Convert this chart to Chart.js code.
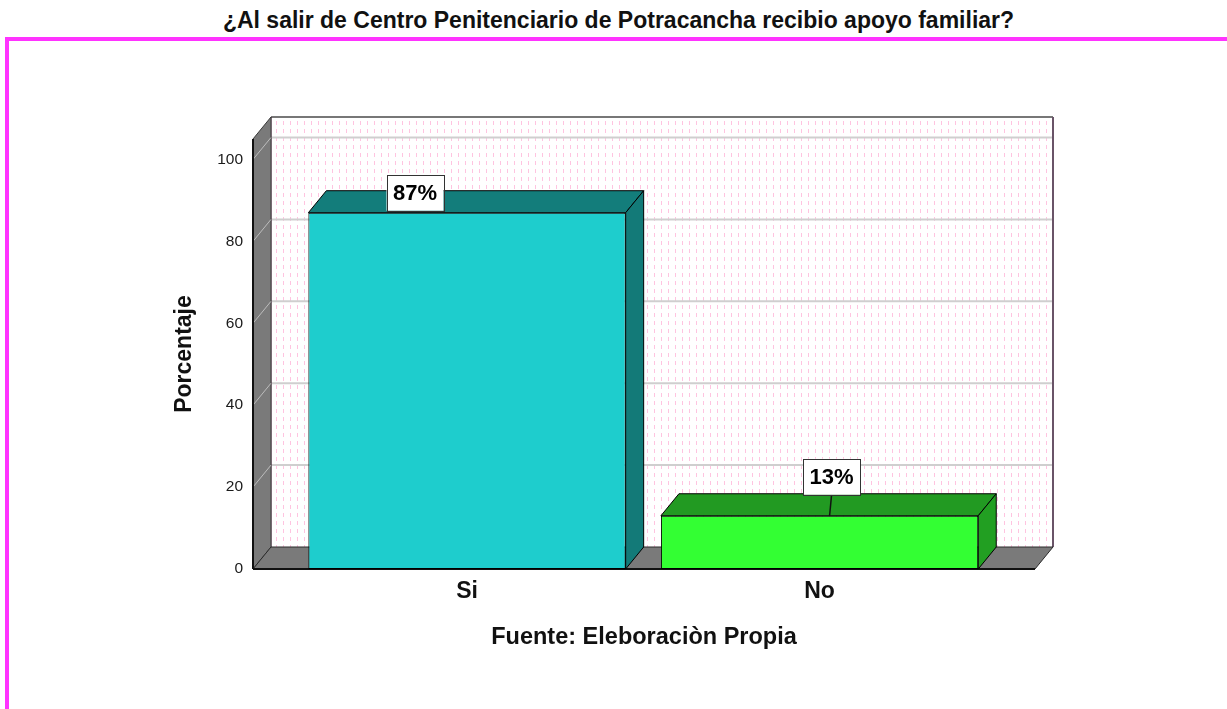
<!DOCTYPE html>
<html lang="es">
<head>
<meta charset="utf-8">
<title>Apoyo familiar</title>
<script src="https://cdn.jsdelivr.net/npm/chart.js@4.4.1/dist/chart.umd.min.js"></script>
<style>
    body {
        margin: 0;
        width: 1227px;
        height: 709px;
        position: relative;
        overflow: hidden;
        background: #fff;
        font-family: "Liberation Sans", Arial, sans-serif;
    }
    #title {
        position: absolute;
        left: 0;
        top: 6px;
        width: 1227px;
        padding-left: 10px;
        box-sizing: border-box;
        margin: 0;
        text-align: center;
        font-size: 23px;
        font-weight: bold;
        line-height: 28px;
        color: #111;
    }
    #frame {
        position: absolute;
        left: 5px;
        top: 37px;
        right: -10px;
        bottom: -10px;
        border-top: 4px solid #ff33ff;
        border-left: 4px solid #ff33ff;
    }
    #holder {
        position: absolute;
        left: 0;
        top: 0;
        width: 1227px;
        height: 709px;
    }
</style>
</head>
<body>
<h1 id="title">¿Al salir de Centro Penitenciario de Potracancha recibio apoyo familiar?</h1>
<div id="frame"></div>
<div id="holder"><canvas id="chart"></canvas></div>
<script>
// Chart data
var categories = ['Si', 'No'];
var percentages = [87, 13];
var percentLabels = ['87%', '13%'];
var yTickValues = [0, 20, 40, 60, 80, 100];
var yAxisTitle = 'Porcentaje';
var xAxisTitle = 'Fuente: Eleboraciòn Propia';

// Look of the SPSS style 3D bars
var fontFamily = '"Liberation Sans", Arial, sans-serif';
var frontColors = ['#1ecdcd', '#33ff33'];
var topColors = ['#137d7b', '#229a22'];
var sideColors = ['#137a78', '#229f22'];
var depth = { dx: 18, dy: 22 };
var labelShift = [[-52, -20], [12, -39]];

/**
 * Builds the pink dotted fill used on the back wall.
 */
function dotPattern(ctx)
{
    var tile = document.createElement('canvas');
    var tctx;

    tile.width = 7;
    tile.height = 8;
    tctx = tile.getContext('2d');
    tctx.fillStyle = '#ffffff';
    tctx.fillRect(0, 0, 7, 8);
    tctx.fillStyle = '#ffc4e0';
    tctx.fillRect(3, 1, 1, 4);

    return ctx.createPattern(tile, 'repeat');
}

function polygon(ctx, points, fill, stroke, width)
{
    var i;

    ctx.beginPath();
    ctx.moveTo(points[0][0], points[0][1]);
    for (i = 1; i < points.length; i++) {
        ctx.lineTo(points[i][0], points[i][1]);
    }
    ctx.closePath();
    if (fill) {
        ctx.fillStyle = fill;
        ctx.fill();
    }
    if (stroke) {
        ctx.strokeStyle = stroke;
        ctx.lineWidth = width || 1;
        ctx.stroke();
    }
}

function line(ctx, x1, y1, x2, y2, color, width)
{
    ctx.beginPath();
    ctx.moveTo(x1, y1);
    ctx.lineTo(x2, y2);
    ctx.strokeStyle = color;
    ctx.lineWidth = width;
    ctx.stroke();
}

/**
 * Draws the walls and floor behind the bars, then the 3D faces and value boxes.
 */
var walls3d = {
    id: 'walls3d',

    beforeDatasetsDraw: function (chart) {
        var ctx = chart.ctx, area = chart.chartArea, yScale = chart.scales.y;
        var L = area.left, R = area.right, T = area.top, B = area.bottom;
        var dx = depth.dx, dy = depth.dy;

        ctx.save();

        // back wall
        ctx.fillStyle = dotPattern(ctx);
        ctx.fillRect(L + dx, T - dy, R - L, B - T);

        yTickValues.forEach(function (v) {
            var y;
            if (v === 0) {
                return;
            }
            y = yScale.getPixelForValue(v);
            line(ctx, L + dx, y - dy, R + dx, y - dy, '#cfcfcf', 2);
        });

        line(ctx, L + dx, T - dy, R + dx, T - dy, '#4a4a4a', 1.5);
        line(ctx, R + dx, T - dy, R + dx, B - dy, '#6a5468', 2);
        line(ctx, L + dx, T - dy, L + dx, B - dy, '#6a3a5a', 1);

        // left wall
        polygon(ctx, [[L, B], [L, T], [L + dx, T - dy], [L + dx, B - dy]], '#7a7a7a', '#3a3a3a', 1);
        yTickValues.forEach(function (v) {
            var y;
            if (v === 0) {
                return;
            }
            y = yScale.getPixelForValue(v);
            line(ctx, L, y, L + dx, y - dy, '#bdbdbd', 1);
        });
        line(ctx, L, T, L, B, '#111111', 2);

        // floor
        polygon(ctx, [[L, B], [R, B], [R + dx, B - dy], [L + dx, B - dy]], '#7a7a7a', '#2a2a2a', 1);
        line(ctx, L, B, R, B, '#111111', 2);

        ctx.restore();
    },

    afterDatasetsDraw: function (chart) {
        var ctx = chart.ctx;
        var meta = chart.getDatasetMeta(0);
        var dx = depth.dx, dy = depth.dy;

        ctx.save();
        meta.data.forEach(function (bar, i) {
            var p = bar.getProps(['x', 'y', 'base', 'width'], true);
            var left = p.x - p.width / 2, right = p.x + p.width / 2;

            polygon(ctx, [[left, p.y], [right, p.y], [right + dx, p.y - dy], [left + dx, p.y - dy]],
                topColors[i], '#000000', 1);
            polygon(ctx, [[right, p.y], [right, p.base], [right + dx, p.base - dy], [right + dx, p.y - dy]],
                sideColors[i], '#000000', 1);
        });

        // value boxes
        ctx.font = 'bold 22px ' + fontFamily;
        ctx.textAlign = 'center';
        ctx.textBaseline = 'middle';
        meta.data.forEach(function (bar, i) {
            var p = bar.getProps(['x', 'y'], true);
            var cx = p.x + labelShift[i][0], cy = p.y + labelShift[i][1];
            var w = 57, h = 36;
            var bottom = cy + h / 2;

            if (bottom < p.y - 4) {
                line(ctx, cx, bottom, cx - 2, p.y, '#111111', 1.5);
            }
            ctx.fillStyle = '#ffffff';
            ctx.fillRect(cx - w / 2, cy - h / 2, w, h);
            ctx.strokeStyle = '#333333';
            ctx.lineWidth = 1;
            ctx.strokeRect(Math.round(cx - w / 2) + 0.5, Math.round(cy - h / 2) + 0.5, w, h);
            ctx.fillStyle = '#000000';
            ctx.fillText(percentLabels[i], cx, cy + 1);
        });
        ctx.restore();
    }
};

new Chart(document.getElementById('chart'), {
    type: 'bar',
    data: {
        datasets: [{
            data: categories.map(function (c, i) {
                return { x: i, y: percentages[i] };
            }),
            backgroundColor: frontColors,
            borderColor: '#000000',
            borderWidth: 1,
            borderSkipped: false,
            categoryPercentage: 0.9,
            barPercentage: 1
        }]
    },
    options: {
        responsive: true,
        maintainAspectRatio: false,
        animation: false,
        devicePixelRatio: 1,
        layout: {
            padding: { top: 139, left: 170, right: 192, bottom: 0 }
        },
        plugins: {
            legend: { display: false },
            tooltip: { enabled: false }
        },
        scales: {
            x: {
                type: 'linear',
                offset: false,
                min: -0.607,
                max: 1.611,
                grid: { display: false, drawTicks: false },
                border: { display: false },
                afterBuildTicks: function (scale) {
                    scale.ticks = categories.map(function (c, i) {
                        return { value: i };
                    });
                },
                afterFit: function (scale) {
                    scale.height = 140;
                },
                ticks: {
                    padding: 9,
                    maxRotation: 0,
                    autoSkip: false,
                    color: '#111111',
                    font: { family: fontFamily, size: 23, weight: 'bold' },
                    callback: function (value) {
                        return categories[value];
                    }
                },
                title: {
                    display: true,
                    text: xAxisTitle,
                    color: '#111111',
                    font: { family: fontFamily, size: 23.5, weight: 'bold' },
                    padding: { top: 4, bottom: 57 }
                }
            },
            y: {
                min: 0,
                max: 105,
                grid: { display: false, drawTicks: false },
                border: { display: false },
                afterBuildTicks: function (scale) {
                    scale.ticks = yTickValues.map(function (v) {
                        return { value: v };
                    });
                },
                afterFit: function (scale) {
                    scale.width = 83;
                },
                ticks: {
                    padding: 10,
                    color: '#1a1a1a',
                    font: { family: fontFamily, size: 15.5 }
                },
                title: {
                    display: true,
                    text: yAxisTitle,
                    color: '#111111',
                    font: { family: fontFamily, size: 23, weight: 'bold' },
                    padding: { top: 1, bottom: 0 }
                }
            }
        }
    },
    plugins: [walls3d]
});
</script>
</body>
</html>
